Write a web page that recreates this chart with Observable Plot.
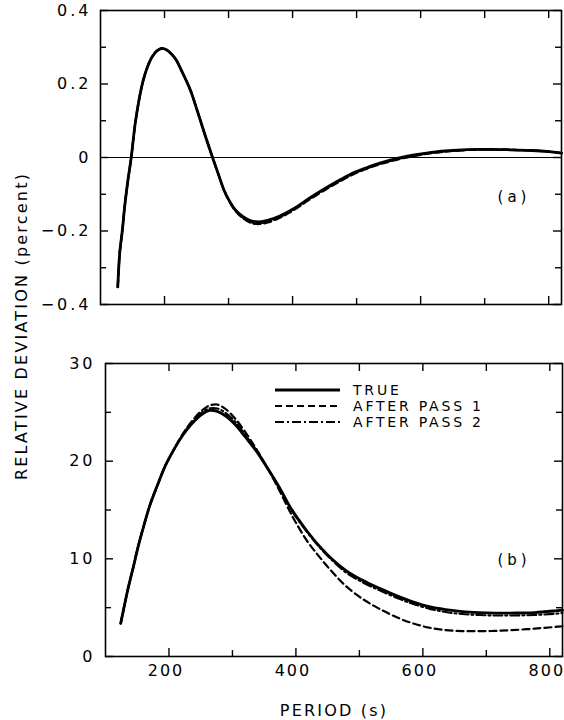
<!DOCTYPE html>
<html><head><meta charset="utf-8">
<script src="https://cdn.jsdelivr.net/npm/d3@7"></script>
<script src="https://cdn.jsdelivr.net/npm/@observablehq/plot@0.6"></script>
<style>
body{margin:0;background:#fff;}
#wrap{position:relative;width:564px;height:720px;font-family:"DejaVu Sans",sans-serif;color:#000;}
.abs{position:absolute;}
</style></head><body><div id="wrap"></div>
<script>
// ---------- data ----------
const periodsA = [127,130,134,138,143,148,154,160,166,173,180,188,196,203,210,218,225,240,251,262,275,285,293,302,311,322,335,348,361,380,403,425,450,475,496,520,539,565,590,617,650,695,740,774,800,820];
const trueA  = [-0.352,-0.26,-0.20,-0.13,-0.06,0.0,0.09,0.155,0.205,0.245,0.272,0.29,0.297,0.293,0.283,0.266,0.242,0.185,0.128,0.068,0.0,-0.05,-0.089,-0.12,-0.143,-0.16,-0.172,-0.175,-0.171,-0.159,-0.138,-0.112,-0.085,-0.06,-0.041,-0.025,-0.014,-0.002,0.007,0.014,0.019,0.022,0.021,0.019,0.016,0.012];
const pass1A = [-0.352,-0.26,-0.20,-0.13,-0.06,0.0,0.09,0.155,0.205,0.245,0.272,0.29,0.297,0.293,0.283,0.266,0.242,0.185,0.128,0.068,0.0,-0.05,-0.09,-0.122,-0.146,-0.165,-0.178,-0.181,-0.177,-0.164,-0.142,-0.116,-0.089,-0.064,-0.045,-0.028,-0.017,-0.005,0.004,0.012,0.018,0.022,0.021,0.019,0.016,0.012];
const pass2A = [-0.352,-0.26,-0.20,-0.13,-0.06,0.0,0.09,0.155,0.205,0.245,0.272,0.29,0.297,0.293,0.283,0.266,0.242,0.185,0.128,0.068,0.0,-0.05,-0.09,-0.121,-0.145,-0.163,-0.176,-0.179,-0.175,-0.162,-0.14,-0.114,-0.087,-0.062,-0.043,-0.027,-0.016,-0.004,0.005,0.013,0.018,0.022,0.021,0.019,0.016,0.012];

const periodsB = [124,135,144,152,160,170,181,194,207,218,228,240,252,264,276,290,305,320,338,356,374,390,400,418,437,458,479,505,531,563,584,610,636,662,688,714,740,776,812,820];
const trueB  = [3.4,6.8,9.2,11.4,13.3,15.5,17.4,19.5,21.1,22.3,23.2,24.1,24.8,25.2,25.1,24.6,23.7,22.5,21.0,19.2,17.3,15.4,14.4,12.8,11.3,9.9,8.8,7.8,7.0,6.1,5.6,5.1,4.8,4.6,4.5,4.45,4.45,4.5,4.7,4.75];
const pass1B = [3.4,6.8,9.2,11.4,13.3,15.5,17.4,19.5,21.1,22.4,23.4,24.4,25.2,25.7,25.8,25.3,24.3,23.0,21.2,19.2,17.0,14.9,13.7,11.8,10.2,8.6,7.2,5.9,4.9,3.9,3.4,2.95,2.7,2.6,2.6,2.62,2.7,2.85,3.05,3.1];
const pass2B = [3.4,6.8,9.2,11.4,13.3,15.5,17.4,19.5,21.1,22.3,23.3,24.2,25.0,25.4,25.4,24.9,24.0,22.7,21.1,19.2,17.2,15.3,14.3,12.7,11.2,9.8,8.6,7.6,6.8,5.9,5.4,4.9,4.55,4.35,4.25,4.2,4.2,4.25,4.4,4.45];

const xDomain = [100, 820];
const xMajor = [200,400,600,800];
const xMinor = [300,500,700];
const xAll = [200,300,400,500,600,700,800];
const yDomainA = [-0.4, 0.4];
const yTicksA = [-0.4,-0.2,0,0.2,0.4];
const yLabelsA = ["\u22120.4","\u22120.2","0","0.2","0.4"];
const yMinorA = [-0.3,-0.1,0.1,0.3];
const yDomainB = [0, 30];
const yTicksB = [0,10,20,30];
const yLabelsB = ["0","10","20","30"];
const yMinorB = [5,15,25];
const legendLabels = ["TRUE","AFTER PASS 1","AFTER PASS 2"];
const panelTags = ["(a)","(b)"];
const xLabel = "PERIOD (s)";
const yLabel = "RELATIVE DEVIATION (percent)";

const rows = (xs, ys) => xs.map((x, i) => ({period: x, value: ys[i]}));
const styles = [
  {strokeWidth: 2.8},
  {strokeWidth: 2.2, strokeDasharray: "7,4"},
  {strokeWidth: 2.1, strokeDasharray: "9,3,2,3"}
];

const wrap = document.getElementById("wrap");
const FONT = "DejaVu Sans, sans-serif";

// tick marks drawn as rules of fixed pixel length, converted into data units
function frameAndTicks(W, H, yDomain, yTicks, yLabels, yMinor, withXLabels, yPad) {
  const ux = (xDomain[1] - xDomain[0]) / W;
  const uy = (yDomain[1] - yDomain[0]) / H;
  const [x0, x1] = xDomain, [y0, y1] = yDomain;
  const fmt = d => { const i = yTicks.indexOf(d); return i >= 0 ? yLabels[i] : ""; };
  const tk = {stroke: "black", strokeWidth: 1.4};
  return [
    Plot.ruleY(yTicks, {y: d => d, x1: x0, x2: x0 + 8 * ux, ...tk}),
    Plot.ruleY(yMinor, {y: d => d, x1: x0, x2: x0 + 6 * ux, ...tk}),
    Plot.ruleY(yTicks, {y: d => d, x1: x1 - 8 * ux, x2: x1, ...tk}),
    Plot.ruleY(yMinor, {y: d => d, x1: x1 - 6 * ux, x2: x1, ...tk}),
    Plot.ruleX(xAll, {x: d => d, y1: y1, y2: y1 - 8 * uy, ...tk}),
    Plot.ruleX(xMajor, {x: d => d, y1: y0, y2: y0 + 8 * uy, ...tk}),
    Plot.ruleX(xMinor, {x: d => d, y1: y0, y2: y0 + 6 * uy, ...tk}),
    Plot.axisY(yTicks, {anchor: "left", tickSize: 0, tickPadding: yPad, tickFormat: fmt, label: null, fontSize: 16}),
    ...(withXLabels ? [Plot.axisX(xMajor, {anchor: "bottom", tickSize: 0, tickPadding: 8, dx: -3, tickFormat: d => String(d), label: null, fontSize: 16, letterSpacing: "2px"})] : []),
    Plot.frame({stroke: "black", strokeWidth: 1.6})
  ];
}

const styleObj = {fontFamily: FONT, fontSize: "16px", letterSpacing: "3px", color: "black", background: "transparent", overflow: "visible"};

// Panel (a)
const plotA = Plot.plot({
  width: 564, height: 312, marginTop: 10, marginBottom: 8, marginLeft: 100, marginRight: 3,
  x: {domain: xDomain, axis: null},
  y: {domain: yDomainA},
  style: styleObj,
  marks: [
    Plot.ruleY([0], {stroke: "black", strokeWidth: 1.1}),
    Plot.line(rows(periodsA, pass1A), {x: "period", y: "value", stroke: "black", curve: "catmull-rom", ...styles[1]}),
    Plot.line(rows(periodsA, pass2A), {x: "period", y: "value", stroke: "black", curve: "catmull-rom", ...styles[2]}),
    Plot.line(rows(periodsA, trueA), {x: "period", y: "value", stroke: "black", curve: "catmull-rom", ...styles[0]}),
    ...frameAndTicks(564 - 100 - 3, 312 - 10 - 8, yDomainA, yTicksA, yLabelsA, yMinorA, false, 9)
  ]
});
plotA.classList.add("abs");
plotA.style.left = "0px"; plotA.style.top = "0px";
wrap.appendChild(plotA);

// Panel (b)
const plotB = Plot.plot({
  width: 564, height: 346, marginTop: 23, marginBottom: 30, marginLeft: 105, marginRight: 2,
  x: {domain: xDomain},
  y: {domain: yDomainB},
  style: styleObj,
  marks: [
    Plot.line(rows(periodsB, pass1B), {x: "period", y: "value", stroke: "black", curve: "catmull-rom", ...styles[1]}),
    Plot.line(rows(periodsB, pass2B), {x: "period", y: "value", stroke: "black", curve: "catmull-rom", ...styles[2]}),
    Plot.line(rows(periodsB, trueB), {x: "period", y: "value", stroke: "black", curve: "catmull-rom", ...styles[0]}),
    ...frameAndTicks(564 - 105 - 2, 346 - 23 - 30, yDomainB, yTicksB, yLabelsB, yMinorB, true, 10)
  ]
});
plotB.classList.add("abs");
plotB.style.left = "0px"; plotB.style.top = "340px";
wrap.appendChild(plotB);
// bottom tick labels: slightly tighter spacing so "800" stays inside the page
plotB.querySelectorAll("g[aria-label='x-axis tick label'] text").forEach(t => t.setAttribute("letter-spacing", "2px"));

// Legend, panel tags and axis titles (overlay)
const ns = "http://www.w3.org/2000/svg";
const ov = document.createElementNS(ns, "svg");
ov.setAttribute("width", 564); ov.setAttribute("height", 720);
ov.setAttribute("class", "abs");
ov.style.left = "0px"; ov.style.top = "0px"; ov.style.pointerEvents = "none";
function addText(t, x, y, size, ls, anchor, transform) {
  const tx = document.createElementNS(ns, "text");
  if (transform) tx.setAttribute("transform", transform);
  else { tx.setAttribute("x", x); tx.setAttribute("y", y); }
  tx.setAttribute("dy", "0.36em");
  tx.setAttribute("text-anchor", anchor);
  tx.setAttribute("font-family", FONT);
  tx.setAttribute("font-size", size);
  tx.setAttribute("letter-spacing", ls + "px");
  tx.setAttribute("fill", "black");
  tx.textContent = t;
  ov.appendChild(tx);
}
legendLabels.forEach((t, i) => {
  const y = 390 + i * 16;
  const ln = document.createElementNS(ns, "line");
  ln.setAttribute("x1", 275); ln.setAttribute("x2", 340);
  ln.setAttribute("y1", y); ln.setAttribute("y2", y);
  ln.setAttribute("stroke", "black");
  ln.setAttribute("stroke-width", styles[i].strokeWidth);
  if (styles[i].strokeDasharray) ln.setAttribute("stroke-dasharray", styles[i].strokeDasharray);
  ov.appendChild(ln);
  addText(t, 353, y, 14, 2.8, "start");
});
addText(panelTags[0], 514, 197, 15, 4, "middle");
addText(panelTags[1], 514, 560, 15, 4, "middle");
addText(xLabel, 334, 710, 16, 2.2, "middle");
addText(yLabel, 0, 0, 16, 2.2, "middle", "translate(21,326) rotate(-90)");
wrap.appendChild(ov);
</script>
</body></html>
